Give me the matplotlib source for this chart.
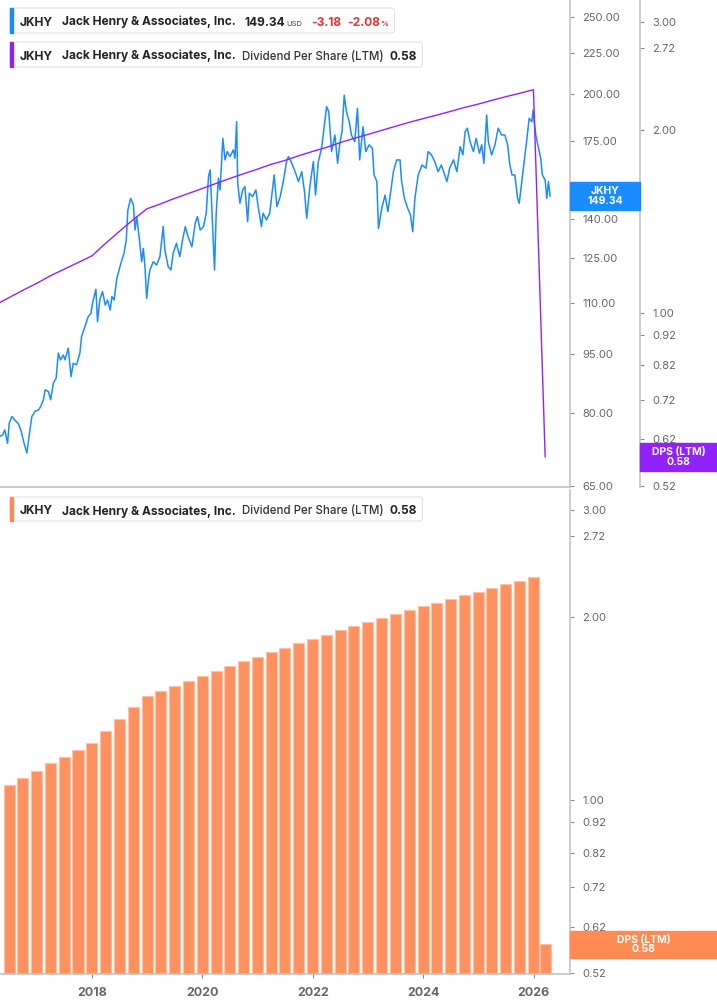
import numpy as np
import pandas as pd
import matplotlib
matplotlib.use('Agg')
import matplotlib.pyplot as plt
from matplotlib.patches import Rectangle, FancyBboxPatch
from matplotlib.ticker import FixedLocator, FixedFormatter, NullLocator

plt.rcParams['font.family'] = ['Inter', 'DejaVu Sans']

W, H = 717, 1005

# JKHY share price (decimal year, USD)
price_dates = [
    2016.33, 2016.38, 2016.42, 2016.47, 2016.50, 2016.55, 2016.60, 2016.66, 2016.71, 2016.77,
    2016.82, 2016.86, 2016.91, 2016.97, 2017.03, 2017.07, 2017.12, 2017.15, 2017.21, 2017.25,
    2017.30, 2017.35, 2017.39, 2017.43, 2017.48, 2017.51, 2017.57, 2017.62, 2017.66, 2017.72,
    2017.78, 2017.81, 2017.87, 2017.93, 2017.98, 2018.01, 2018.07, 2018.10, 2018.14, 2018.19,
    2018.24, 2018.28, 2018.33, 2018.36, 2018.40, 2018.45, 2018.49, 2018.54, 2018.58, 2018.62,
    2018.65, 2018.70, 2018.75, 2018.78, 2018.81, 2018.86, 2018.90, 2018.93, 2018.96, 2018.99,
    2019.03, 2019.05, 2019.11, 2019.17, 2019.23, 2019.29, 2019.32, 2019.38, 2019.43, 2019.47,
    2019.53, 2019.59, 2019.64, 2019.69, 2019.74, 2019.81, 2019.87, 2019.91, 2019.96, 2020.02,
    2020.07, 2020.11, 2020.14, 2020.17, 2020.22, 2020.25, 2020.29, 2020.32, 2020.37, 2020.41,
    2020.45, 2020.50, 2020.56, 2020.59, 2020.62, 2020.64, 2020.68, 2020.73, 2020.77, 2020.82,
    2020.85, 2020.91, 2020.97, 2021.01, 2021.07, 2021.10, 2021.16, 2021.22, 2021.30, 2021.35,
    2021.41, 2021.47, 2021.53, 2021.56, 2021.62, 2021.68, 2021.74, 2021.80, 2021.85, 2021.89,
    2021.95, 2022.01, 2022.05, 2022.10, 2022.16, 2022.21, 2022.25, 2022.29, 2022.34, 2022.40,
    2022.45, 2022.49, 2022.53, 2022.57, 2022.61, 2022.66, 2022.70, 2022.76, 2022.81, 2022.85,
    2022.91, 2022.96, 2023.02, 2023.08, 2023.11, 2023.16, 2023.19, 2023.25, 2023.31, 2023.36,
    2023.42, 2023.46, 2023.52, 2023.58, 2023.61, 2023.66, 2023.72, 2023.77, 2023.81, 2023.85,
    2023.91, 2023.98, 2024.05, 2024.09, 2024.15, 2024.21, 2024.27, 2024.33, 2024.39, 2024.43,
    2024.48, 2024.55, 2024.61, 2024.67, 2024.72, 2024.76, 2024.80, 2024.85, 2024.91, 2024.96,
    2025.02, 2025.06, 2025.10, 2025.15, 2025.18, 2025.24, 2025.30, 2025.36, 2025.42, 2025.48,
    2025.53, 2025.57, 2025.61, 2025.66, 2025.71, 2025.74, 2025.78, 2025.83, 2025.88, 2025.92,
    2025.97, 2025.99, 2026.04, 2026.09, 2026.13, 2026.16, 2026.21, 2026.24, 2026.27, 2026.30,
]
price_vals = [
    74.9, 75.2, 76.3, 73.4, 77.8, 79.3, 78.5, 77.8, 76.3, 73.4,
    71.4, 74.9, 79.3, 80.5, 80.8, 81.6, 83.2, 85.6, 85.2, 83.2,
    87.3, 88.5, 95.1, 93.3, 94.6, 93.3, 96.5, 88.9, 92.4, 92.0,
    95.1, 99.7, 102.6, 105.6, 106.6, 109.8, 114.3, 104.1, 110.8, 113.5,
    109.2, 110.8, 107.7, 111.9, 110.8, 117.9, 120.8, 124.3, 126.7, 131.6,
    143.5, 148.4, 145.6, 135.5, 140.8, 131.6, 123.7, 128.5, 121.9, 111.3,
    118.5, 120.8, 123.7, 122.5, 125.5, 136.8, 127.9, 121.9, 120.8, 126.7,
    130.4, 125.5, 131.6, 136.8, 132.9, 129.1, 138.1, 140.8, 135.5, 136.8,
    142.2, 157.9, 161.0, 144.9, 120.8, 142.2, 157.2, 152.0, 176.3, 165.7,
    169.7, 167.3, 170.5, 166.5, 184.9, 155.0, 146.3, 152.0, 153.5, 138.8,
    150.6, 149.1, 152.0, 144.9, 136.8, 142.2, 139.5, 142.2, 158.7, 144.9,
    149.1, 156.4, 165.7, 167.3, 164.1, 160.2, 155.7, 160.2, 151.3, 140.1,
    154.2, 164.9, 149.8, 164.9, 171.3, 183.2, 193.1, 190.3, 169.7, 178.0,
    164.1, 173.8, 179.7, 199.6, 190.3, 184.9, 178.0, 174.6, 192.2, 165.7,
    182.3, 169.7, 173.0, 171.3, 158.7, 155.7, 136.1, 144.2, 149.8, 142.8,
    152.7, 160.2, 165.7, 165.7, 155.7, 148.4, 144.2, 141.5, 134.8, 148.4,
    158.7, 163.3, 161.8, 169.7, 168.1, 164.9, 160.2, 163.3, 158.7, 155.7,
    161.8, 165.7, 160.2, 172.1, 168.1, 179.7, 181.5, 174.6, 169.7, 176.3,
    168.9, 173.0, 164.1, 188.5, 174.6, 168.1, 173.0, 181.5, 178.0, 178.0,
    173.0, 163.3, 158.7, 158.7, 148.4, 146.3, 154.2, 164.9, 176.3, 186.7,
    184.9, 191.2, 178.0, 171.3, 166.5, 158.7, 156.4, 148.4, 155.7, 149.34,
]

# dividend per share (LTM), one value per quarter end
dps_quarters = pd.period_range('2016Q1', '2025Q4', freq='Q')
dps_vals = [
    1.030, 1.059, 1.089, 1.118, 1.150, 1.179, 1.209, 1.240, 1.300, 1.360,
    1.422, 1.482, 1.510, 1.541, 1.570, 1.600, 1.631, 1.662, 1.692, 1.722,
    1.753, 1.779, 1.811, 1.841, 1.869, 1.903, 1.934, 1.963, 1.993, 2.024,
    2.055, 2.084, 2.112, 2.142, 2.174, 2.202, 2.233, 2.264, 2.293, 2.325,
]
# latest partial period
dps_last_date = 2026.21
dps_last_val = 0.58

price_ticks = [65, 80, 95, 110, 125, 140, 175, 200, 225, 250]
dps_ticks = [0.52, 0.62, 0.72, 0.82, 0.92, 1.00, 2.00, 2.72, 3.00]
year_ticks = [2018, 2020, 2022, 2024, 2026]

BLUE = '#1a8cff'
PURPLE = '#8f22ff'
ORANGE = '#ff8a52'
BAR = '#ff9160'
GRID = '#c4c4c4'
LABEL = '#666666'

ends = dps_quarters.end_time
dps_dates = list(ends.year + (ends.dayofyear - 0.5) / 365.25)
dps_dates_all = dps_dates + [dps_last_date]
dps_vals_all = dps_vals + [dps_last_val]

fig = plt.figure(figsize=(W / 100, H / 100), dpi=100)


def fx(x):
    return x / W


def fy(y):
    return 1 - y / H


xmin, xmax = 2016.333, 2026.66


def style_y(a, ticks, fmt):
    a.yaxis.set_major_locator(FixedLocator(ticks))
    a.yaxis.set_major_formatter(FixedFormatter([fmt % t for t in ticks]))
    a.yaxis.set_minor_locator(NullLocator())
    a.yaxis.set_ticks_position('right')
    a.yaxis.set_label_position('right')
    a.tick_params(axis='y', which='major', direction='out', length=3, width=0.8,
                  color='#888888', labelcolor=LABEL, labelsize=8, pad=6,
                  left=False, labelleft=False, right=True, labelright=True)


# ---- top panel: price + DPS line
ax = fig.add_axes([0, fy(487), fx(570), 487 / H])
ax.plot(price_dates, price_vals, color=BLUE, lw=1.1, zorder=3)
ax.set_yscale('log')
ax.set_ylim(64.76, 262.3)
ax.set_xlim(xmin, xmax)
ax.tick_params(axis='x', bottom=False, labelbottom=False)

axd = ax.twinx()
axd.plot(dps_dates_all, dps_vals_all, color=PURPLE, lw=1.0, zorder=4)
axd.set_yscale('log')
axd.set_ylim(0.5174, 3.264)
style_y(axd, dps_ticks, '%.2f')
axd.spines['right'].set_position(('axes', 640 / 570))
axd.spines['right'].set_color(GRID)
axd.spines['right'].set_linewidth(1.2)
for s in ['top', 'left', 'bottom']:
    axd.spines[s].set_visible(False)

# twinx moves the price ticks to the left, so style them afterwards
style_y(ax, price_ticks, '%.2f')
for s in ['top', 'left']:
    ax.spines[s].set_visible(False)
for s in ['right', 'bottom']:
    ax.spines[s].set_color(GRID)
    ax.spines[s].set_linewidth(1.2)

# ---- bottom panel: DPS bars (the 2016Q1 bar lies left of the view)
ax2 = fig.add_axes([0, fy(974), fx(570), (974 - 490) / H])
ax2.bar(dps_dates_all[1:], dps_vals_all[1:], width=0.2, color=BAR, edgecolor='#ffc2a3',
        lw=0.8, log=True)
ax2.set_ylim(0.518, 3.236)
ax2.set_xlim(xmin, xmax)
style_y(ax2, dps_ticks, '%.2f')
ax2.set_xticks(year_ticks)
ax2.set_xticklabels([str(y) for y in year_ticks], fontweight='bold')
ax2.tick_params(axis='x', direction='out', length=3, width=0.8, color='#888888',
                labelcolor=LABEL, labelsize=9, pad=6)
for s in ['top', 'left']:
    ax2.spines[s].set_visible(False)
for s in ['right', 'bottom']:
    ax2.spines[s].set_color(GRID)
    ax2.spines[s].set_linewidth(1.2)


# ---- value tags on the right axes
def tag(x0, x1, y0, y1, color, text):
    fig.add_artist(Rectangle((fx(x0), fy(y1)), fx(x1) - fx(x0), (y1 - y0) / H,
                             transform=fig.transFigure, color=color, zorder=5))
    fig.text(fx((x0 + x1) / 2), fy((y0 + y1) / 2), text, ha='center', va='center',
             color='white', fontsize=7.5, fontweight='bold', linespacing=1.0, zorder=6)


tag(570, 640, 182, 210, BLUE, 'JKHY\n149.34')
tag(640, 717, 443, 471, PURPLE, 'DPS (LTM)\n0.58')
tag(570, 717, 931, 958, ORANGE, 'DPS (LTM)\n0.58')

# ---- legend rows
renderer = fig.canvas.get_renderer()


def legend_row(y0, y1, color, pieces):
    x = 20
    base = y0 + 17.5
    for gap, s, kw in pieces:
        x += gap
        t = fig.text(fx(x), fy(base), s, ha='left', va='baseline', zorder=4, **kw)
        x += t.get_window_extent(renderer=renderer).width
    x_end = x + 6
    fig.add_artist(FancyBboxPatch((fx(10), fy(y1)), fx(x_end) - fx(10), (y1 - y0) / H,
                                  boxstyle='round,pad=0,rounding_size=0.003',
                                  transform=fig.transFigure, fc='white',
                                  ec='#e2e2e2', lw=0.8, zorder=2))
    fig.add_artist(Rectangle((fx(10), fy(y1)), 3 / W, (y1 - y0) / H,
                             transform=fig.transFigure, color=color, zorder=3))


FS = 8.6
dark = dict(fontsize=FS, fontweight='bold', color='#222222')
red = dict(fontsize=FS, fontweight='bold', color='#e03535')
name_pieces = [(0, 'JKHY', dark), (8.5, 'Jack Henry & Associates, Inc.', dark)]

legend_row(8, 33, BLUE, name_pieces + [
    (8.7, '149.34', dark),
    (1.5, 'USD', dict(fontsize=5.5, color='#444444')),
    (9, '-3.18', red),
    (6, '-2.08', red),
    (0.5, '%', dict(fontsize=5.5, fontweight='bold', color='#e03535')),
])
dps_row = name_pieces + [
    (7, 'Dividend Per Share (LTM)', dict(fontsize=8.3, fontweight='medium', color='#333333')),
    (5, '0.58', dark),
]
legend_row(42, 67, PURPLE, dps_row)
legend_row(497, 521, ORANGE, dps_row)

fig.savefig('out.png', dpi=100)
